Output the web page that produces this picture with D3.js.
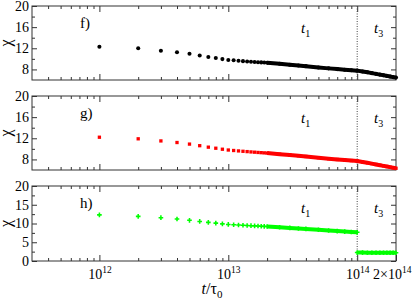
<!DOCTYPE html>
<html>
<head>
<meta charset="utf-8">
<script src="https://cdn.jsdelivr.net/npm/d3@7"></script>
<style>
body { margin: 0; background: #fff; }
svg text { font-family: "Liberation Serif", "Times New Roman", serif; fill: #000; }
</style>
</head>
<body>
<div id="chart"></div>
<script>
// times are in units of 1e12 tau_0
let tF = [1,2,3,4,5,6,7,8,9,10,11,12,13,14,15,16,17,18,19,20,25,30,35,40,50,60,70,80,90,100,110,120,130,140,150,160,170,180,190,200];
let chiF = [12.3,12.0,11.55,11.25,10.95,10.65,10.35,10.15,9.95,9.8,9.72,9.64,9.57,9.51,9.46,9.41,9.37,9.33,9.3,9.27,9.07,8.9,8.76,8.62,8.38,8.2,8.06,7.94,7.85,7.77,7.6,7.45,7.3,7.16,7.02,6.9,6.78,6.66,6.55,6.45];

let tG = tF;
let chiG = [12.2,11.9,11.5,11.2,10.9,10.6,10.32,10.12,9.93,9.78,9.69,9.61,9.54,9.48,9.42,9.37,9.32,9.28,9.24,9.2,9.0,8.84,8.7,8.56,8.33,8.14,7.99,7.87,7.78,7.7,7.52,7.36,7.2,7.05,6.91,6.78,6.66,6.54,6.43,6.33];

let tH1 = [1,2,3,4,5,6,7,8,9,10,11,12,13,14,15,16,17,18,19,20,25,30,35,40,50,60,70,80,90,100];
let chiH1 = [12.3,11.9,11.55,11.2,10.85,10.55,10.3,10.1,9.9,9.75,9.67,9.6,9.53,9.47,9.42,9.37,9.32,9.28,9.24,9.2,9.0,8.83,8.68,8.55,8.32,8.13,7.97,7.84,7.74,7.65];
let tH3 = [100,110,120,130,140,150,160,170,180,190,200];
let chiH3 = [2.25,2.25,2.2,2.2,2.2,2.2,2.2,2.2,2.2,2.2,2.2];

let xMajor = [1e12, 1e13, 1e14];
let xLabels = [1e12, 1e13, 1e14, 2e14];
let xMinor = [4e11,5e11,6e11,7e11,8e11,9e11,2e12,3e12,4e12,5e12,6e12,7e12,8e12,9e12,2e13,3e13,4e13,5e13,6e13,7e13,8e13,9e13];

let width = 415, height = 301;
let left = 32, right = 396;
let denseFrom = 20;
let serif = "'Liberation Serif', 'Times New Roman', serif";

let panels = [
  { label: "f)", top: 6, bottom: 80, yDomain: [6, 20], yMajor: [8,12,16,20], yMinor: [10,14,18], color: "#000", symbol: d3.symbolCircle, size: 13,
    series: [{ t: tF, chi: chiF }] },
  { label: "g)", top: 96, bottom: 170, yDomain: [6, 20], yMajor: [8,12,16,20], yMinor: [10,14,18], color: "#ff0000", symbol: d3.symbolSquare, size: 11,
    series: [{ t: tG, chi: chiG }] },
  { label: "h)", top: 186, bottom: 261, yDomain: [0, 20], yMajor: [0,5,10,15,20], yMinor: [2.5,7.5,12.5,17.5], color: "#00ff00", symbol: d3.symbolCross, size: 12,
    series: [{ t: tH1, chi: chiH1 }, { t: tH3, chi: chiH3 }] }
];

let x = d3.scaleLog().domain([3e11, 2e14]).range([left, right]);

let svg = d3.select("#chart").append("svg")
  .attr("width", width)
  .attr("height", height)
  .attr("font-family", serif);

function powLabel(sel) {
  sel.each(function(d) {
    let t = d3.select(this).text("");
    let e = Math.floor(Math.log10(d) + 1e-9);
    let m = Math.round(d / Math.pow(10, e));
    if (m != 1) {
      t.append("tspan").text(m + "×");
      t.attr("text-anchor", "end").attr("dx", 15);
    }
    t.append("tspan").text("10");
    t.append("tspan").attr("dy", "-6").attr("font-size", "9.5px").text(e);
  });
}

panels.forEach((p, i) => {
  let y = d3.scaleLinear().domain(p.yDomain).range([p.bottom, p.top]);
  let g = svg.append("g");
  let last = i == panels.length - 1;

  // x ticks, bottom and top, pointing inwards
  g.append("g").attr("transform", "translate(0," + p.bottom + ")")
    .call(d3.axisBottom(x).tickValues(xMinor).tickSizeInner(-3).tickSizeOuter(0).tickFormat(""));
  let xb = g.append("g").attr("transform", "translate(0," + p.bottom + ")")
    .call(d3.axisBottom(x).tickValues(last ? xLabels : xMajor).tickSizeInner(-6).tickSizeOuter(0).tickPadding(8)
      .tickFormat(last ? null : ""));
  if (last) xb.selectAll("text").attr("font-size", "14px").call(powLabel);
  g.append("g").attr("transform", "translate(0," + p.top + ")")
    .call(d3.axisTop(x).tickValues(xMinor).tickSizeInner(-3).tickSizeOuter(0).tickFormat(""));
  g.append("g").attr("transform", "translate(0," + p.top + ")")
    .call(d3.axisTop(x).tickValues(xMajor).tickSizeInner(-6).tickSizeOuter(0).tickFormat(""));

  // y ticks, left and right
  g.append("g").attr("transform", "translate(" + left + ",0)")
    .call(d3.axisLeft(y).tickValues(p.yMajor).tickSizeInner(-5).tickSizeOuter(0).tickPadding(3))
    .selectAll("text").attr("font-size", "14px");
  g.append("g").attr("transform", "translate(" + left + ",0)")
    .call(d3.axisLeft(y).tickValues(p.yMinor).tickSizeInner(-3).tickSizeOuter(0).tickFormat(""));
  g.append("g").attr("transform", "translate(" + right + ",0)")
    .call(d3.axisRight(y).tickValues(p.yMajor).tickSizeInner(-5).tickSizeOuter(0).tickFormat(""));
  g.append("g").attr("transform", "translate(" + right + ",0)")
    .call(d3.axisRight(y).tickValues(p.yMinor).tickSizeInner(-3).tickSizeOuter(0).tickFormat(""));

  g.selectAll(".domain").remove();
  g.selectAll(".tick line").attr("stroke", "#333");
  g.selectAll("g").attr("font-family", serif);

  g.append("rect")
    .attr("x", left).attr("y", p.top)
    .attr("width", right - left).attr("height", p.bottom - p.top)
    .attr("fill", "none").attr("stroke", "#333").attr("stroke-width", 1);

  // boundary between t1 and t3 regimes
  g.append("line")
    .attr("x1", x(1e14)).attr("x2", x(1e14))
    .attr("y1", p.top).attr("y2", p.bottom)
    .attr("stroke", "#444").attr("stroke-dasharray", "1,1.5");

  // data
  p.series.forEach((s) => {
    let pts = s.t.map((t, k) => ({ t: t * 1e12, chi: s.chi[k], u: t }));
    let dense = pts.filter((d) => d.u >= denseFrom);
    g.append("path")
      .datum(dense)
      .attr("fill", "none")
      .attr("stroke", p.color)
      .attr("stroke-width", 4)
      .attr("d", d3.line().x((d) => x(d.t)).y((d) => y(d.chi)));
    g.selectAll(null)
      .data(pts)
      .enter()
      .append("path")
      .attr("transform", (d) => "translate(" + x(d.t) + "," + y(d.chi) + ")")
      .attr("d", d3.symbol().type(p.symbol).size(p.size))
      .attr("fill", p.color);
  });

  // labels
  g.append("text").attr("x", 80).attr("y", p.top + 22).attr("font-size", "15px").text(p.label);
  let t1 = g.append("text").attr("x", 301).attr("y", p.top + 27).attr("font-size", "15px");
  t1.append("tspan").attr("font-style", "italic").text("t");
  t1.append("tspan").attr("dy", 4).attr("font-size", "10px").text("1");
  let t3 = g.append("text").attr("x", 374).attr("y", p.top + 27).attr("font-size", "15px");
  t3.append("tspan").attr("font-style", "italic").text("t");
  t3.append("tspan").attr("dy", 4).attr("font-size", "10px").text("3");

  g.append("text")
    .attr("transform", "translate(11," + (p.top + p.bottom) / 2 + ") rotate(-90)")
    .attr("text-anchor", "middle")
    .attr("font-size", "16px")
    .text("χ");
});

let xl = svg.append("text").attr("x", 212).attr("y", 294).attr("text-anchor", "middle").attr("font-size", "16px");
xl.append("tspan").attr("font-style", "italic").text("t");
xl.append("tspan").text("/τ");
xl.append("tspan").attr("dy", 4).attr("font-size", "11px").text("0");
</script>
</body>
</html>
